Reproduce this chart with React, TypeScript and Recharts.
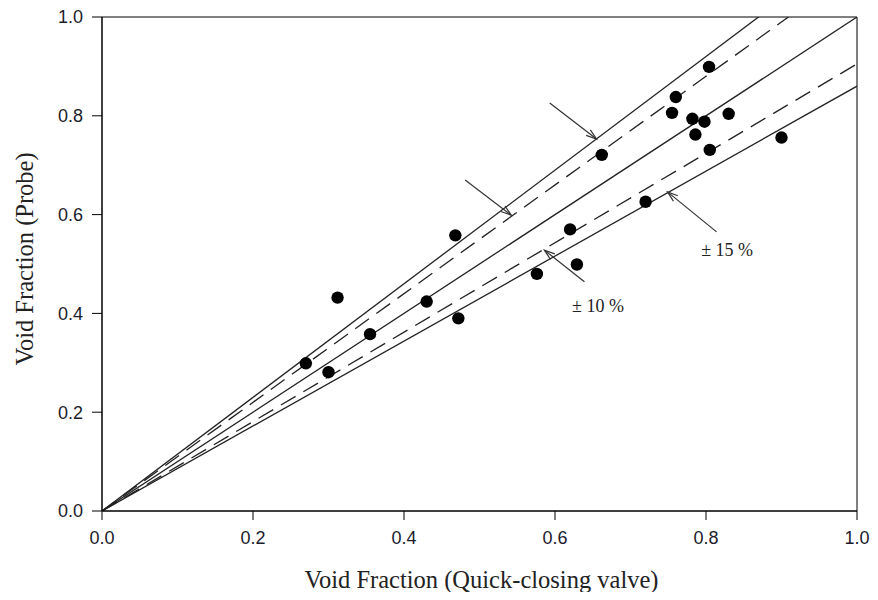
import {
  ScatterChart,
  Scatter,
  XAxis,
  YAxis,
  ReferenceLine,
  ReferenceArea,
  ReferenceDot,
  Label,
} from 'recharts';

// measured void fraction: quick-closing valve (x) vs probe (y)
const valveValues = [
  0.27, 0.3, 0.312, 0.355, 0.43, 0.468, 0.472, 0.576, 0.62, 0.629, 0.662, 0.72,
  0.755, 0.76, 0.782, 0.786, 0.798, 0.804, 0.805, 0.83, 0.9,
];
const probeValues = [
  0.299, 0.281, 0.432, 0.358, 0.424, 0.558, 0.39, 0.48, 0.57, 0.499, 0.721, 0.626,
  0.806, 0.838, 0.794, 0.762, 0.788, 0.899, 0.731, 0.804, 0.756,
];

const axisTicks = [0, 0.2, 0.4, 0.6, 0.8, 1.0];

// reference lines y = k * x
const solidSlopes = [1.15, 1.0, 0.86];
const dashedSlopes = [1.1, 0.905];

// annotation arrows: [fromX, fromY, toX, toY]
const arrows = [
  [0.593, 0.826, 0.655, 0.753],
  [0.481, 0.67, 0.542, 0.599],
  [0.639, 0.464, 0.586, 0.528],
  [0.814, 0.565, 0.749, 0.646],
];
const noteTexts = ['± 10 %', '± 15 %'];
const noteX = [0.657, 0.828];
const noteY = [0.415, 0.528];

const points = valveValues.map((x, i) => ({ x, y: probeValues[i] }));

const tickStyle = { fontFamily: 'Liberation Sans, Arial, sans-serif', fontSize: 18, fill: '#1c1c2c' };
const titleFont = 'Liberation Serif, Times New Roman, serif';

const Dot = (props: any) => <circle cx={props.cx} cy={props.cy} r={6.2} fill="#000" />;

const Arrow = (props: any) => {
  const { x1, y1, x2, y2 } = props;
  const a = Math.atan2(y2 - y1, x2 - x1);
  const len = 11;
  const spread = 0.32;
  const hx1 = x2 - len * Math.cos(a - spread);
  const hy1 = y2 - len * Math.sin(a - spread);
  const hx2 = x2 - len * Math.cos(a + spread);
  const hy2 = y2 - len * Math.sin(a + spread);
  return (
    <g stroke="#333" strokeWidth={1.2} fill="none">
      <line x1={x1} y1={y1} x2={x2} y2={y2} />
      <polyline points={`${hx1},${hy1} ${x2},${y2} ${hx2},${hy2}`} />
    </g>
  );
};

export default function App() {
  return (
    <div style={{ width: 878, height: 600, background: '#fff', margin: -8 }}>
      <ScatterChart width={878} height={600} margin={{ top: 17, right: 21, bottom: 0, left: 0 }}>
        <XAxis
          type="number"
          dataKey="x"
          domain={[0, 1]}
          ticks={axisTicks}
          tickFormatter={(v: number) => v.toFixed(1)}
          height={89}
          tick={tickStyle}
          tickSize={9}
          tickMargin={11}
          stroke="#000"
          allowDataOverflow
        >
          <Label
            content={({ viewBox }: any) => (
              <text
                x={viewBox.x + viewBox.width / 2 + 2}
                y={viewBox.y + 77}
                textAnchor="middle"
                fontFamily={titleFont}
                fontSize={24.5}
                fill="#222"
              >
                Void Fraction (Quick-closing valve)
              </text>
            )}
          />
        </XAxis>
        <YAxis
          type="number"
          dataKey="y"
          domain={[0, 1]}
          ticks={axisTicks}
          tickFormatter={(v: number) => v.toFixed(1)}
          width={102}
          tick={tickStyle}
          tickSize={10}
          tickMargin={9}
          stroke="#000"
          allowDataOverflow
        >
          <Label
            content={({ viewBox }: any) => {
              const cx = 24;
              const cy = viewBox.y + viewBox.height / 2 - 5;
              return (
                <text
                  x={cx}
                  y={cy}
                  transform={`rotate(-90 ${cx} ${cy})`}
                  textAnchor="middle"
                  dominantBaseline="central"
                  fontFamily={titleFont}
                  fontSize={24.5}
                  fill="#222"
                >
                  Void Fraction (Probe)
                </text>
              );
            }}
          />
        </YAxis>
        <ReferenceArea x1={0} x2={1} y1={0} y2={1} fill="none" stroke="#000" strokeWidth={1} />
        {solidSlopes.map((k) => (
          <ReferenceLine
            key={`s${k}`}
            segment={[{ x: 0, y: 0 }, { x: 1, y: k }]}
            stroke="#222"
            strokeWidth={1.3}
            ifOverflow="hidden"
          />
        ))}
        {dashedSlopes.map((k) => (
          <ReferenceLine
            key={`d${k}`}
            segment={[{ x: 0, y: 0 }, { x: 1, y: k }]}
            stroke="#222"
            strokeWidth={1.3}
            strokeDasharray="17 9"
            ifOverflow="hidden"
          />
        ))}
        {arrows.map((a, i) => (
          <ReferenceLine
            key={`a${i}`}
            segment={[{ x: a[0], y: a[1] }, { x: a[2], y: a[3] }]}
            shape={Arrow}
          />
        ))}
        {noteTexts.map((t, i) => (
          <ReferenceDot
            key={t}
            x={noteX[i]}
            y={noteY[i]}
            shape={(p: any) => (
              <text
                x={p.cx}
                y={p.cy}
                textAnchor="middle"
                dominantBaseline="central"
                fontFamily={titleFont}
                fontSize={18}
                fill="#222"
              >
                {t}
              </text>
            )}
          />
        ))}
        <Scatter data={points} shape={Dot} isAnimationActive={false} />
      </ScatterChart>
    </div>
  );
}
